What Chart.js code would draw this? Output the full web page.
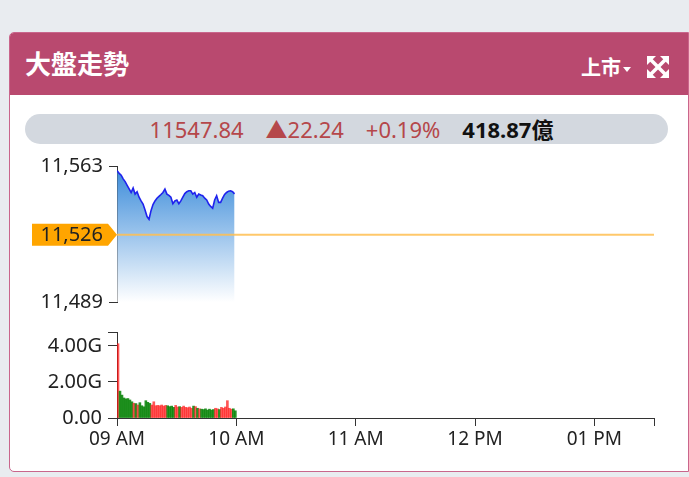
<!DOCTYPE html>
<html lang="zh-TW">
<head>
<meta charset="UTF-8">
<title>大盤走勢</title>
<script src="https://cdn.jsdelivr.net/npm/chart.js"></script>
<style>
  body { margin:0; width:689px; height:477px; background:#e9ecf0; position:relative; overflow:hidden;
         font-family:'Noto Sans','Noto Sans CJK TC',sans-serif; }
  .card { position:absolute; left:9px; top:32px; width:680px; height:440px; background:#fff;
          border:1px solid #c9668c; border-radius:5px 0 0 5px; box-sizing:border-box; }
  .head { position:absolute; left:10px; top:33px; width:678px; height:62px; background:#b9496f; border-radius:4px 0 0 0; }
  .title { position:absolute; left:25px; top:47px; margin:0; color:#fff; font-size:26px; font-weight:700;
           line-height:32px; font-family:'Noto Sans CJK TC',sans-serif; }
  .market { position:absolute; left:581px; top:55px; color:#fff; font-size:20px; font-weight:700; line-height:24px;
            font-family:'Noto Sans CJK TC',sans-serif; }
  .market i { display:inline-block; width:0; height:0; margin-left:2px; vertical-align:3px;
              border-left:4px solid transparent; border-right:4px solid transparent; border-top:5px solid #fff; }
  .expand { position:absolute; left:647px; top:56px; }
  .pill { position:absolute; left:25px; top:114px; width:643px; height:30px; border-radius:15px; background:#d3d8df;
          display:flex; justify-content:center; align-items:center; gap:22px; padding-left:10px; box-sizing:border-box;
          font-size:22px; line-height:30px; color:#b5474a; }
  .pill b { color:#111; font-family:'Noto Sans','Noto Sans CJK TC',sans-serif; }
  canvas { position:absolute; left:0; }
  #price { top:146px; }
  #volume { top:314px; }
</style>
</head>
<body>
<div class="card"></div>
<div class="head"></div>
<h1 class="title">大盤走勢</h1>
<div class="market">上市<i></i></div>
<svg class="expand" width="22" height="22" viewBox="0 0 22 22">
  <g fill="#fff">
    <polygon points="0,0 9,0 0,9"/>
    <polygon points="22,0 13,0 22,9"/>
    <polygon points="0,22 9,22 0,13"/>
    <polygon points="22,22 13,22 22,13"/>
  </g>
  <g stroke="#fff" stroke-width="3.5">
    <line x1="3" y1="3" x2="19" y2="19"/>
    <line x1="19" y1="3" x2="3" y2="19"/>
  </g>
</svg>
<div class="pill">
  <span id="last"></span><span id="chg"></span><span id="pct"></span><b id="amt"></b>
</div>
<canvas id="price" width="689" height="174"></canvas>
<canvas id="volume" width="689" height="156"></canvas>
<script>
// 09:00 起每分鐘
const minutes = Array.from({length: 60}, (_, i) => i);
const prices = [
  11560.5, 11559, 11558, 11556, 11554.5, 11552.5, 11550.5, 11548.6, 11551, 11547.7,
  11549, 11546, 11544, 11542.3, 11539, 11535.5, 11534, 11538.7, 11542, 11544,
  11545.5, 11546.5, 11547.5, 11548.6, 11550.4, 11547.7, 11547, 11546, 11542.5, 11544,
  11544.5, 11542.5, 11544, 11546, 11548, 11549, 11549.5, 11549.5, 11547.7, 11548.6,
  11546, 11547.7, 11547.2, 11546.8, 11545.5, 11544.5, 11542.3, 11541, 11540, 11544.5,
  11546.8, 11543.2, 11543.2, 11545.5, 11547.5, 11548.6, 11549.3, 11549.5, 11549, 11547.84
];
// 成交量 (G)
const volumes = [
  4.12, 1.49, 1.27, 1.11, 1.06, 1.08, 1.0, 0.9, 0.82, 0.8,
  0.72, 0.85, 0.68, 0.62, 0.96, 0.87, 0.81, 0.72, 0.9, 0.68,
  0.7, 0.68, 0.72, 0.66, 0.7, 0.68, 0.63, 0.66, 0.59, 0.7,
  0.61, 0.63, 0.59, 0.66, 0.59, 0.57, 0.61, 0.54, 0.66, 0.63,
  0.54, 0.51, 0.49, 0.47, 0.51, 0.44, 0.49, 0.44, 0.47, 0.54,
  0.51, 0.47, 0.59, 0.54, 0.61, 0.96, 0.54, 0.49, 0.51, 0.4
];
const prevClose = 11525.6;
const lastPrice = 11547.84;
const turnover = 418.87; // 億
const priceRange = [11489, 11563];
const volMax = 4.77;
const volTicks = [0, 2, 4];
const xTicks = [0, 60, 120, 180, 240];
const xTickLabels = ['09 AM', '10 AM', '11 AM', '12 PM', '01 PM'];
const sessionEnd = 270;

const chg = lastPrice - prevClose;
document.getElementById('last').textContent = lastPrice.toFixed(2);
document.getElementById('chg').textContent = '▲' + chg.toFixed(2);
document.getElementById('pct').textContent = '+' + (chg / prevClose * 100).toFixed(2) + '%';
document.getElementById('amt').textContent = turnover.toFixed(2) + '億';

Chart.defaults.font.family = "'Noto Sans', sans-serif";
Chart.defaults.color = '#222';

const axisLeft = s => { s.width = 117; };

const refLine = {
  id: 'refLine',
  afterDatasetsDraw(chart) {
    const {ctx, chartArea, scales: {y}} = chart;
    const py = y.getPixelForValue(prevClose);
    ctx.save();
    ctx.strokeStyle = 'rgba(255,190,80,0.85)';
    ctx.lineWidth = 2;
    ctx.beginPath();
    ctx.moveTo(chartArea.left, py);
    ctx.lineTo(chartArea.right, py);
    ctx.stroke();
    const tip = chartArea.left;
    ctx.fillStyle = '#ffa500';
    ctx.beginPath();
    ctx.moveTo(32, py - 11);
    ctx.lineTo(tip - 9, py - 11);
    ctx.lineTo(tip, py);
    ctx.lineTo(tip - 9, py + 11);
    ctx.lineTo(32, py + 11);
    ctx.closePath();
    ctx.fill();
    ctx.fillStyle = '#222';
    ctx.font = "20px 'Noto Sans'";
    ctx.textAlign = 'right';
    ctx.textBaseline = 'middle';
    ctx.fillText(Math.round(prevClose).toLocaleString('en-US'), tip - 14, py + 1);
    ctx.restore();
  }
};

new Chart(document.getElementById('price'), {
  type: 'line',
  data: {
    datasets: [{
      data: minutes.map((m, i) => ({x: m + 0.1, y: prices[i]})),
      borderColor: '#1f22ee',
      borderWidth: 1.6,
      pointRadius: 0,
      tension: 0,
      fill: 'start',
      backgroundColor: ctx => {
        const a = ctx.chart.chartArea;
        if (!a) return 'rgba(60,140,220,0.5)';
        const g = ctx.chart.ctx.createLinearGradient(0, a.top, 0, a.bottom);
        g.addColorStop(0, '#3789d9');
        g.addColorStop(1, '#ffffff');
        return g;
      }
    }]
  },
  options: {
    responsive: false,
    animation: false,
    devicePixelRatio: 1,
    layout: {padding: {left: 0, right: 35, top: 20, bottom: 0}},
    plugins: {legend: {display: false}, tooltip: {enabled: false}},
    scales: {
      x: {type: 'linear', min: 0, max: sessionEnd, display: false},
      y: {
        min: priceRange[0], max: priceRange[1],
        afterBuildTicks: s => { s.ticks = priceRange.map(v => ({value: v})); },
        afterFit: axisLeft,
        ticks: {callback: v => v.toLocaleString('en-US'), font: {size: 20}, padding: 6, color: '#222', autoSkip: false},
        grid: {drawOnChartArea: false, tickLength: 8, color: '#333'},
        border: {color: '#333'}
      }
    }
  },
  plugins: [refLine]
});

new Chart(document.getElementById('volume'), {
  type: 'bar',
  data: {
    datasets: [{
      data: minutes.map((m, i) => ({x: m + 0.5, y: volumes[i]})),
      backgroundColor: prices.map((p, i) => p >= (i ? prices[i - 1] : prevClose) ? 'rgba(255,20,20,0.72)' : 'rgba(0,128,0,0.85)'),
      barPercentage: 1,
      categoryPercentage: 1
    }]
  },
  options: {
    responsive: false,
    animation: false,
    devicePixelRatio: 1,
    layout: {padding: {left: 0, right: 35, top: 0, bottom: 0}},
    plugins: {legend: {display: false}, tooltip: {enabled: false}},
    scales: {
      x: {
        type: 'linear', min: 0, max: sessionEnd, offset: false,
        afterBuildTicks: s => { s.ticks = xTicks.concat(sessionEnd).map(v => ({value: v})); },
        afterFit: s => { s.height = 52; },
        ticks: {callback: (v, i) => xTickLabels[i] || '', font: {size: 19}, padding: 2, maxRotation: 0, autoSkip: false, color: '#222'},
        grid: {drawOnChartArea: false, offset: false, tickLength: 8, color: '#333'},
        border: {color: '#333'}
      },
      y: {
        min: 0, max: volMax,
        afterBuildTicks: s => { s.ticks = volTicks.concat(volMax).map(v => ({value: v})); },
        afterFit: axisLeft,
        ticks: {callback: v => v === volMax ? '' : (v === 0 ? '0.00' : v.toFixed(2) + 'G'), font: {size: 20}, padding: 6, color: '#222', autoSkip: false},
        grid: {drawOnChartArea: false, tickLength: 9, color: '#333'},
        border: {color: '#333'}
      }
    }
  }
});
</script>
</body>
</html>
